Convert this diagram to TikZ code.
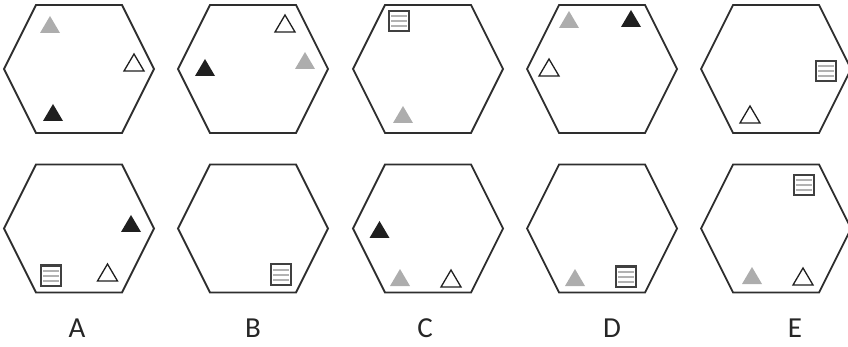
\documentclass[tikz,border=0pt]{standalone}
\usepackage{fontspec}
\setmainfont{Carlito}
\newcommand\mkHex[2]{\draw[hexline] ({#1-75},#2) -- ({#1-43},{#2-64}) -- ({#1+43},{#2-64}) -- ({#1+75},#2) -- ({#1+43},{#2+64}) -- ({#1-43},{#2+64}) -- cycle;}
\newcommand\mkTri[3]{\path[#3] ({#1-10},#2) -- ({#1+10},#2) -- (#1,{#2-17}) -- cycle;}
\newcommand\mkSq[2]{%
  \draw[stripe] ({#1-8},{#2-5}) -- ({#1+8},{#2-5});
  \draw[stripe] ({#1-8},#2) -- ({#1+8},#2);
  \draw[stripe] ({#1-8},{#2+5}) -- ({#1+8},{#2+5});
  \draw[sqline] ({#1-10},{#2-10}) rectangle ({#1+10},{#2+10});}
\begin{document}
\begin{tikzpicture}[x=1pt,y=-1pt,
  hexline/.style={line width=1.8pt, draw=black!82, line join=miter},
  tblack/.style={fill=black!88},
  tgray/.style={fill=black!32},
  twhite/.style={draw=black!88, line width=1.3pt, fill=white, line join=miter},
  stripe/.style={draw=black!30, line width=2pt},
  sqline/.style={draw=black!75, line width=2pt},
  lbl/.style={font=\fontsize{29}{29}\selectfont, text=black!85, inner sep=0pt}]
\useasboundingbox (0,0) rectangle (848,347);
% top row
\mkHex{79}{69}
\mkTri{50}{33}{tgray}
\mkTri{134}{71}{twhite}
\mkTri{53}{121}{tblack}
\mkHex{253}{69}
\mkTri{285}{32}{twhite}
\mkTri{205}{76}{tblack}
\mkTri{305}{69}{tgray}
\mkHex{428}{69}
\mkSq{399}{21}
\mkTri{403}{123}{tgray}
\mkHex{602}{69}
\mkTri{569}{28}{tgray}
\mkTri{631}{27}{tblack}
\mkTri{549}{76}{twhite}
\mkHex{776}{69}
\mkSq{826}{71}
\mkTri{750}{123}{twhite}
% bottom row
\mkHex{79}{228.5}
\mkTri{131}{232}{tblack}
\mkSq{51}{275.5}
\mkTri{107.5}{281}{twhite}
\mkHex{253}{228.5}
\mkSq{281}{274.5}
\mkHex{428}{228.5}
\mkTri{379.5}{238}{tblack}
\mkTri{400}{286}{tgray}
\mkTri{451}{287}{twhite}
\mkHex{602}{228.5}
\mkTri{575}{286}{tgray}
\mkSq{626}{276.5}
\mkHex{776}{228.5}
\mkSq{803.5}{185.5}
\mkTri{752}{284}{tgray}
\mkTri{803}{285}{twhite}
% labels
\node[lbl] (la) at (77,328) {A};
\node[lbl] (lb) at (253,328) {B};
\node[lbl] (lc) at (425,328) {C};
\node[lbl] (ld) at (612,328) {D};
\node[lbl] (le) at (795,328) {E};
\end{tikzpicture}
\end{document}
